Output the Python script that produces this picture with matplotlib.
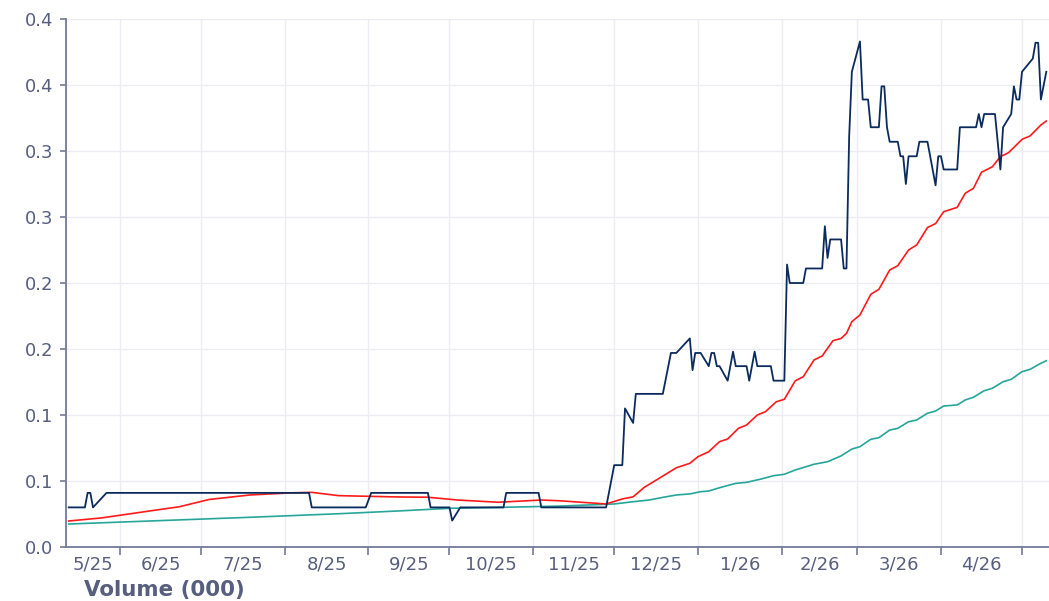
import numpy as np
import pandas as pd
import matplotlib
matplotlib.use("Agg")
import matplotlib.pyplot as plt
import matplotlib.dates as mdates

# --- data ---
price_dates = [
    "2025-05-13", "2025-05-19", "2025-05-20", "2025-05-21", "2025-05-22", "2025-05-27", "2025-08-10", "2025-08-11", "2025-08-31", "2025-09-02",
    "2025-09-23", "2025-09-24", "2025-10-01", "2025-10-02", "2025-10-05", "2025-10-21", "2025-10-22", "2025-11-03", "2025-11-04", "2025-11-28",
    "2025-12-01", "2025-12-04", "2025-12-05", "2025-12-08", "2025-12-09", "2025-12-19", "2025-12-22", "2025-12-24", "2025-12-29", "2025-12-30",
    "2025-12-31", "2026-01-02", "2026-01-05", "2026-01-06", "2026-01-07", "2026-01-08", "2026-01-09", "2026-01-12", "2026-01-14", "2026-01-15",
    "2026-01-19", "2026-01-20", "2026-01-22", "2026-01-23", "2026-01-28", "2026-01-29", "2026-02-02", "2026-02-03", "2026-02-04", "2026-02-09",
    "2026-02-10", "2026-02-16", "2026-02-17", "2026-02-18", "2026-02-19", "2026-02-23", "2026-02-24", "2026-02-25", "2026-02-26", "2026-02-27",
    "2026-03-02", "2026-03-03", "2026-03-05", "2026-03-06", "2026-03-09", "2026-03-10", "2026-03-11", "2026-03-12", "2026-03-13", "2026-03-16",
    "2026-03-17", "2026-03-18", "2026-03-19", "2026-03-20", "2026-03-23", "2026-03-24", "2026-03-27", "2026-03-30", "2026-03-31", "2026-04-01",
    "2026-04-02", "2026-04-07", "2026-04-08", "2026-04-14", "2026-04-15", "2026-04-16", "2026-04-17", "2026-04-21", "2026-04-23", "2026-04-24",
    "2026-04-27", "2026-04-28", "2026-04-29", "2026-04-30", "2026-05-01", "2026-05-05", "2026-05-06", "2026-05-07", "2026-05-08", "2026-05-10",
]
price = [
    0.030, 0.030, 0.041, 0.041, 0.030, 0.041, 0.041, 0.030, 0.030, 0.041,
    0.041, 0.030, 0.030, 0.020, 0.030, 0.030, 0.041, 0.041, 0.030, 0.030,
    0.062, 0.062, 0.105, 0.094, 0.116, 0.116, 0.147, 0.147, 0.158, 0.134,
    0.147, 0.147, 0.137, 0.147, 0.147, 0.137, 0.137, 0.126, 0.148, 0.137,
    0.137, 0.126, 0.148, 0.137, 0.137, 0.126, 0.126, 0.214, 0.200, 0.200,
    0.211, 0.211, 0.243, 0.219, 0.233, 0.233, 0.211, 0.211, 0.311, 0.360,
    0.383, 0.339, 0.339, 0.318, 0.318, 0.349, 0.349, 0.318, 0.307, 0.307,
    0.296, 0.296, 0.275, 0.296, 0.296, 0.307, 0.307, 0.274, 0.296, 0.296,
    0.286, 0.286, 0.318, 0.318, 0.328, 0.318, 0.328, 0.328, 0.286, 0.318,
    0.328, 0.349, 0.339, 0.339, 0.360, 0.370, 0.382, 0.382, 0.339, 0.360,
]

fast_dates = [
    "2025-05-13", "2025-05-25", "2025-06-12", "2025-06-23", "2025-07-04", "2025-07-19", "2025-08-03", "2025-08-11", "2025-08-21", "2025-09-12",
    "2025-09-23", "2025-10-04", "2025-10-19", "2025-11-04", "2025-11-11", "2025-11-28", "2025-12-04", "2025-12-08", "2025-12-12", "2025-12-18",
    "2025-12-24", "2025-12-29", "2026-01-01", "2026-01-05", "2026-01-09", "2026-01-12", "2026-01-16", "2026-01-19", "2026-01-23", "2026-01-26",
    "2026-01-30", "2026-02-02", "2026-02-06", "2026-02-09", "2026-02-13", "2026-02-16", "2026-02-20", "2026-02-23", "2026-02-25", "2026-02-27",
    "2026-03-02", "2026-03-06", "2026-03-09", "2026-03-13", "2026-03-16", "2026-03-20", "2026-03-23", "2026-03-27", "2026-03-30", "2026-04-02",
    "2026-04-07", "2026-04-10", "2026-04-13", "2026-04-16", "2026-04-20", "2026-04-23", "2026-04-26", "2026-05-01", "2026-05-04", "2026-05-08",
    "2026-05-10",
]
fast_ma = [
    0.0197, 0.0220, 0.0273, 0.0305, 0.0360, 0.0394, 0.0410, 0.0414, 0.0389, 0.0379,
    0.0377, 0.0356, 0.0339, 0.0356, 0.0350, 0.0326, 0.0364, 0.0380, 0.0450, 0.0525,
    0.0600, 0.0634, 0.0684, 0.0722, 0.0798, 0.0818, 0.0899, 0.0924, 0.1000, 0.1025,
    0.1100, 0.1119, 0.1258, 0.1290, 0.1417, 0.1447, 0.1563, 0.1580, 0.1618, 0.1707,
    0.1758, 0.1914, 0.1952, 0.2098, 0.2131, 0.2250, 0.2288, 0.2420, 0.2450, 0.2540,
    0.2573, 0.2680, 0.2717, 0.2839, 0.2880, 0.2957, 0.2987, 0.3088, 0.3114, 0.3197,
    0.3227,
]

slow_dates = [
    "2025-05-13", "2025-06-12", "2025-07-19", "2025-08-21", "2025-09-12", "2025-10-01", "2025-10-19", "2025-11-11", "2025-12-01", "2025-12-08",
    "2025-12-14", "2025-12-19", "2025-12-24", "2025-12-29", "2026-01-02", "2026-01-05", "2026-01-09", "2026-01-15", "2026-01-19", "2026-01-24",
    "2026-01-29", "2026-02-02", "2026-02-06", "2026-02-13", "2026-02-18", "2026-02-23", "2026-02-27", "2026-03-02", "2026-03-06", "2026-03-09",
    "2026-03-13", "2026-03-16", "2026-03-20", "2026-03-23", "2026-03-27", "2026-03-30", "2026-04-02", "2026-04-07", "2026-04-10", "2026-04-13",
    "2026-04-17", "2026-04-20", "2026-04-24", "2026-04-27", "2026-05-01", "2026-05-04", "2026-05-08", "2026-05-10",
]
slow_ma = [
    0.0174, 0.0197, 0.0225, 0.0252, 0.0273, 0.0293, 0.0300, 0.0310, 0.0326, 0.0343,
    0.0356, 0.0376, 0.0394, 0.0402, 0.0419, 0.0424, 0.0449, 0.0482, 0.0490, 0.0513,
    0.0540, 0.0551, 0.0583, 0.0627, 0.0646, 0.0690, 0.0742, 0.0760, 0.0816, 0.0828,
    0.0886, 0.0899, 0.0949, 0.0962, 0.1013, 0.1030, 0.1068, 0.1076, 0.1114, 0.1134,
    0.1184, 0.1202, 0.1252, 0.1270, 0.1328, 0.1346, 0.1392, 0.1411,
]

y_ticks = [0.0, 0.05, 0.10, 0.15, 0.20, 0.25, 0.30, 0.35, 0.40]
x_start, x_end = "2025-05-12", "2026-05-11"
x_title = "Volume (000)"

# --- style ---
axis_col = "#737a96"
text_col = "#575e7e"
grid_col = "#ecedf3"
plt.rcParams["font.family"] = ["DejaVu Sans"]

fig = plt.figure(figsize=(10.49, 6.01), dpi=100)
ax = fig.add_axes([66 / 1049, 54 / 601, 983 / 1049, 528 / 601])

ax.plot(pd.to_datetime(slow_dates), slow_ma, color="#26a69a", lw=1.2, zorder=3)
ax.plot(pd.to_datetime(fast_dates), fast_ma, color="#ff1a1a", lw=1.2, zorder=4)
ax.plot(pd.to_datetime(price_dates), price, color="#0b2a5e", lw=1.3, zorder=5)

x0, x1 = pd.Timestamp(x_start), pd.Timestamp(x_end)
ax.set_xlim(x0, x1)
ax.set_ylim(0, 0.4)

# y axis: rounded labels like the original
ax.set_yticks(y_ticks)
ax.set_yticklabels([f"{np.floor(v * 10 + 0.5 + 1e-9) / 10:.1f}" for v in y_ticks])

# x axis: tick marks at month starts, labels centred on the visible part of each month
month_starts = pd.date_range("2025-05-01", "2026-06-01", freq="MS")
ax.set_xticks([m for m in month_starts if x0 < m < x1])
ax.xaxis.set_major_formatter(plt.NullFormatter())
label_pos, label_txt = [], []
for a, b in zip(month_starts[:-1], month_starts[1:]):
    lo, hi = max(a, x0), min(b, x1)
    if (hi - lo).days < 15:
        continue
    label_pos.append(lo + (hi - lo) / 2)
    label_txt.append(f"{a.month}/{a.strftime('%y')}")
ax.set_xticks(label_pos, minor=True)
ax.set_xticklabels(label_txt, minor=True)

ax.grid(True, color=grid_col, lw=1, zorder=0)
ax.set_axisbelow(True)
for s in ["top", "right"]:
    ax.spines[s].set_visible(False)
for s in ["left", "bottom"]:
    ax.spines[s].set_color(axis_col)
    ax.spines[s].set_linewidth(1.3)

ax.tick_params(axis="y", which="major", length=4, width=1.2, color=axis_col,
               labelcolor=text_col, labelsize=13, pad=5)
ax.tick_params(axis="x", which="major", length=6, width=1.2, color=axis_col, pad=2)
ax.tick_params(axis="x", which="minor", length=0, labelcolor=text_col,
               labelsize=13, pad=6)

fig.text(84 / 1049, 1 - 590 / 601, x_title, color=text_col, fontsize=15.4,
         fontweight="bold", ha="left", va="center")

fig.savefig("out.png", dpi=100)
